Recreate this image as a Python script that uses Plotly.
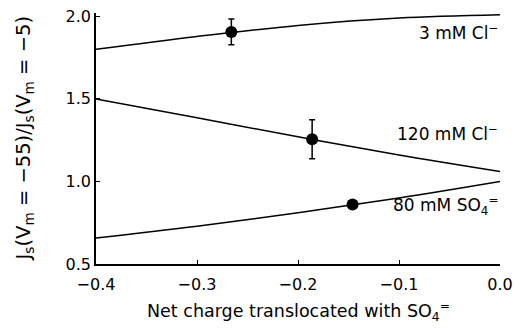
import plotly.graph_objects as go

# Curves
x_curve = [-0.4, -0.3, -0.2, -0.1, 0.0]
y_cl3 = [1.80, 1.878, 1.945, 1.99, 2.01]
y_cl120 = [1.50, 1.385, 1.27, 1.16, 1.06]
y_so4 = [0.657, 0.728, 0.81, 0.90, 1.00]

# Measured points
pt_x = [-0.266, -0.186, -0.146]
pt_y = [1.905, 1.256, 0.861]
pt_err = [0.078, 0.118, 0.015]

labels = ["3 mM Cl<sup>−</sup>", "120 mM Cl<sup>−</sup>", "80 mM SO<sub>4</sub><sup>=</sup>"]
label_y = [1.905, 1.292, 0.852]

x_ticks = [-0.4, -0.3, -0.2, -0.1, 0.0]
y_ticks = [0.5, 1.0, 1.5, 2.0]

x_title = "Net charge translocated with SO<sub>4</sub><sup>=</sup>"
y_title = "J<sub>s</sub>(V<sub>m</sub> = −55)/J<sub>s</sub>(V<sub>m</sub> = −5)"

FONT = "DejaVu Sans"

fig = go.Figure()
for yy in (y_cl3, y_cl120, y_so4):
    fig.add_trace(go.Scatter(x=x_curve, y=yy, mode="lines", line=dict(color="black", width=1.5, shape="spline"),
                             showlegend=False, hoverinfo="skip"))

fig.add_trace(go.Scatter(x=pt_x, y=pt_y, mode="markers",
                         marker=dict(color="black", size=12),
                         error_y=dict(type="data", array=pt_err, color="black", thickness=1.5, width=3),
                         showlegend=False, cliponaxis=False))

for t, ly in zip(labels, label_y):
    fig.add_annotation(x=0.0, y=ly, xref="x", yref="y", text=t, showarrow=False,
                       xanchor="right", yanchor="middle", font=dict(family=FONT, size=17, color="black"))

# axis titles
fig.add_annotation(x=0.5, y=-0.19, xref="paper", yref="paper", text=x_title, showarrow=False,
                   xanchor="center", yanchor="middle", font=dict(family=FONT, size=17.5, color="black"))
fig.add_annotation(x=-0.176, y=0.5, xref="paper", yref="paper", text=y_title, showarrow=False, textangle=-90,
                   xanchor="center", yanchor="middle", font=dict(family=FONT, size=19.5, color="black"))

fig.update_layout(
    width=514, height=328,
    margin=dict(l=96, r=14, t=13, b=64),
    paper_bgcolor="white", plot_bgcolor="white",
    font=dict(family=FONT, size=16, color="black"),
)
fig.update_xaxes(range=[-0.4, 0.0], tickvals=x_ticks, ticktext=["−0.4", "−0.3", "−0.2", "−0.1", "0.0"],
                 showgrid=False, zeroline=False, showline=True, linecolor="black", linewidth=1.5,
                 ticks="inside", ticklen=4, tickwidth=1, tickcolor="black", automargin=False,
                 ticklabelstandoff=5, tickfont=dict(family=FONT, size=16))
fig.update_yaxes(range=[0.5, 2.02], tickvals=y_ticks, ticktext=["0.5", "1.0", "1.5", "2.0"],
                 showgrid=False, zeroline=False, showline=True, linecolor="black", linewidth=1.5,
                 ticks="inside", ticklen=4, tickwidth=1, tickcolor="black", automargin=False,
                 tickfont=dict(family=FONT, size=16))

fig.write_html("out.html")
